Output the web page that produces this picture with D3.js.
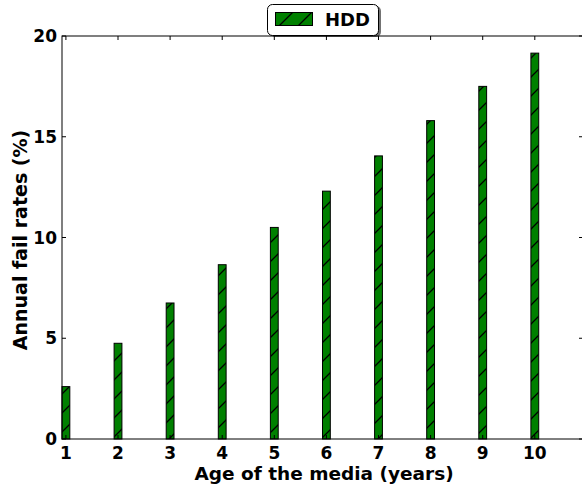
<!DOCTYPE html>
<html><head><meta charset="utf-8">
<script src="https://cdn.jsdelivr.net/npm/d3@7"></script>
<style>body{margin:0;background:#fff}svg{display:block}text{font-family:"DejaVu Sans",sans-serif;font-weight:bold}</style>
</head><body><svg id="c" width="582" height="487"></svg>
<script>
const ages = [1,2,3,4,5,6,7,8,9,10];
const failRates = [2.6, 4.75, 6.75, 8.65, 10.5, 12.3, 14.05, 15.8, 17.5, 19.15];
const yTicks = [0,5,10,15,20];
const seriesName = "HDD";

const svg = d3.select("#c");
const L=62, R=583, T=36, B=439;
const x = d3.scaleLinear().domain([0.925,10.925]).range([L,R]);
const y = d3.scaleLinear().domain([0,20]).range([B,T]);
const bw = x(1.075)-x(0.925);

const defs = svg.append("defs");
function makeHatch(id, ox, oy){
  const p = defs.append("pattern").attr("id",id).attr("patternUnits","userSpaceOnUse")
    .attr("width",19).attr("height",19).attr("x",ox).attr("y",oy);
  p.append("rect").attr("width",19).attr("height",19).attr("fill","#008000");
  p.append("path").attr("d","M-2,21 L21,-2 M-2,2 L2,-2 M17,21 L21,17")
    .attr("stroke","#000").attr("stroke-width",1.3);
}
makeHatch("hatch",0,0);
makeHatch("hatchL",275,11);

// bars
svg.append("g").selectAll("rect").data(ages).join("rect")
  .attr("x",d=>x(d)-bw/2).attr("width",bw)
  .attr("y",(d,i)=>y(failRates[i])).attr("height",(d,i)=>B-y(failRates[i]))
  .attr("fill","url(#hatch)").attr("stroke","#000").attr("stroke-width",1);

// frame
svg.append("rect").attr("x",L).attr("y",T).attr("width",R-L).attr("height",B-T)
  .attr("fill","none").attr("stroke","#000").attr("stroke-width",1);

// ticks (inside, all four sides)
const tk = svg.append("g").attr("stroke","#000").attr("stroke-width",1);
ages.forEach(a=>{
  tk.append("line").attr("x1",x(a)).attr("x2",x(a)).attr("y1",B).attr("y2",B-4);
  tk.append("line").attr("x1",x(a)).attr("x2",x(a)).attr("y1",T).attr("y2",T+4);
});
yTicks.forEach(v=>{
  tk.append("line").attr("x1",L).attr("x2",L+4).attr("y1",y(v)).attr("y2",y(v));
  tk.append("line").attr("x1",R).attr("x2",R-4).attr("y1",y(v)).attr("y2",y(v));
});

// tick labels
svg.append("g").selectAll("text").data(ages).join("text")
  .attr("x",d=>x(d)).attr("y",B+20).attr("text-anchor","middle")
  .attr("font-size",17).text(d=>d);
svg.append("g").selectAll("text").data(yTicks).join("text")
  .attr("x",L-5).attr("y",d=>y(d)).attr("dy","0.36em").attr("text-anchor","end")
  .attr("font-size",17).text(d=>d);

// axis labels
svg.append("text").attr("x",324).attr("y",480).attr("text-anchor","middle")
  .attr("font-size",18.5).text("Age of the media (years)");
svg.append("text").attr("transform","translate(27,240) rotate(-90)").attr("text-anchor","middle")
  .attr("font-size",19).text("Annual fail rates (%)");

// legend
const lg = svg.append("g");
lg.append("rect").attr("x",270).attr("y",6).attr("width",111).attr("height",31).attr("rx",5)
  .attr("fill","#000").attr("opacity",0.55);
lg.append("rect").attr("x",267.5).attr("y",4.5).attr("width",111).attr("height",31).attr("rx",5)
  .attr("fill","#fff").attr("stroke","#000").attr("stroke-width",1);
lg.append("rect").attr("x",275.5).attr("y",12.5).attr("width",37).attr("height",13)
  .attr("fill","url(#hatchL)").attr("stroke","#000").attr("stroke-width",1);
lg.append("text").attr("x",325).attr("y",26).attr("font-size",18).text(seriesName);
</script></body></html>
